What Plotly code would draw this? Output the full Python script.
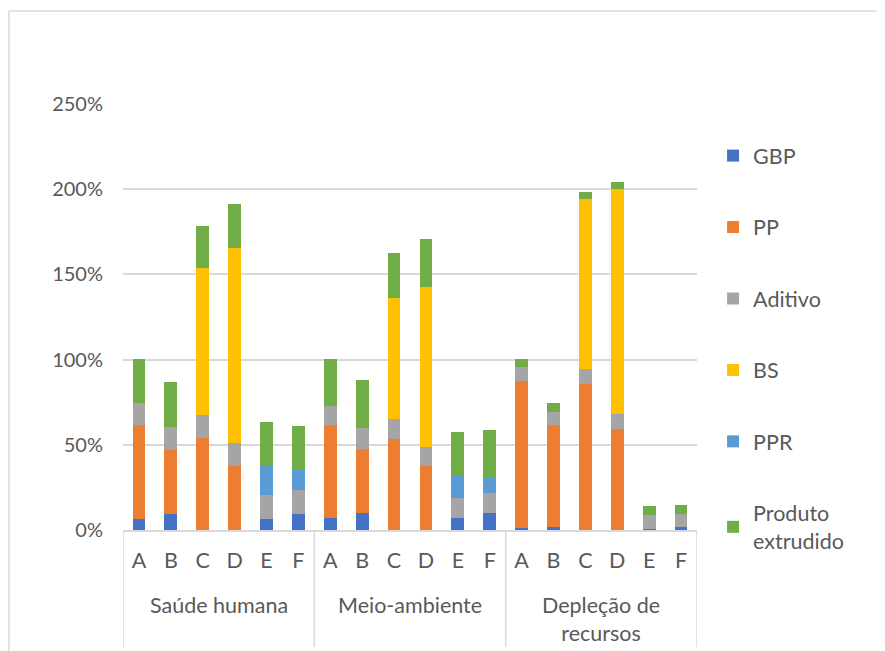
import plotly.graph_objects as go

groups = ["Saúde humana", "Meio-ambiente", "Depleção de<br>recursos"]
letters = ["A", "B", "C", "D", "E", "F"]

series_names = ["GBP", "PP", "Aditivo", "BS", "PPR", "Produto<br>extrudido"]
colors = ["#4472C4", "#ED7D31", "#A5A5A5", "#FFC000", "#5B9BD5", "#70AD47"]

# values in %, order: Saúde humana A-F, Meio-ambiente A-F, Depleção de recursos A-F
gbp = [6.5, 9.4, 0, 0, 6.5, 9.4,
       7.3, 10.2, 0, 0, 7.3, 10.2,
       1.0, 1.6, 0, 0, 0.8, 1.6]
pp = [55.0, 37.5, 54.1, 37.4, 0, 0,
      54.1, 37.2, 53.3, 37.4, 0, 0,
      86.2, 60.0, 85.8, 59.3, 0, 0]
aditivo = [13.0, 13.7, 13.2, 13.8, 13.8, 13.8,
           11.6, 12.6, 11.9, 11.6, 11.6, 11.7,
           8.7, 7.9, 8.7, 8.8, 7.9, 7.8]
bs = [0, 0, 86.4, 114.2, 0, 0,
      0, 0, 70.8, 93.7, 0, 0,
      0, 0, 99.6, 131.9, 0, 0]
ppr = [0, 0, 0, 0, 17.7, 12.6,
       0, 0, 0, 0, 12.6, 8.8,
       0, 0, 0, 0, 0, 0]
produto = [25.8, 26.4, 24.8, 25.7, 25.6, 25.4,
           27.2, 27.8, 26.4, 27.8, 26.2, 27.8,
           4.3, 5.1, 4.3, 4.3, 5.1, 5.4]

y_ticks = [0, 50, 100, 150, 200, 250]
y_ticktext = [f"{v}%" for v in y_ticks]

series_values = [gbp, pp, aditivo, bs, ppr, produto]

n_per_group = len(letters)
x_pos = list(range(len(groups) * n_per_group))
x_ticktext = [l for _ in groups for l in letters]

FONT = "Lato"
FS = 21.5
TXT = "#595959"
GRID = "#D9D9D9"

fig = go.Figure()
for i, (name, col, vals) in enumerate(zip(series_names, colors, series_values)):
    fig.add_trace(go.Bar(
        x=x_pos, y=vals, name=name,
        marker=dict(color=col, line=dict(width=0)),
        legendgroup=f"g{i}",
    ))

# group labels and dividers of the two-level category axis
shapes = []
annotations = []
for gi, g in enumerate(groups):
    annotations.append(dict(
        xref="x", yref="paper", x=gi * n_per_group + (n_per_group - 1) / 2,
        y=-0.141, yanchor="top", xanchor="center", showarrow=False,
        text=g, font=dict(family=FONT, size=FS, color=TXT),
    ))
for gi in range(len(groups) + 1):
    xd = gi * n_per_group - 0.5
    shapes.append(dict(type="line", xref="x", yref="paper",
                       x0=xd, x1=xd, y0=0, y1=-0.2746,
                       line=dict(color=GRID, width=1.5)))
# chart-area border
shapes.append(dict(type="rect", xref="paper", yref="paper",
                   x0=-0.1986, x1=1.5, y0=-0.5, y1=1.2183,
                   line=dict(color=GRID, width=1.5), fillcolor="rgba(0,0,0,0)",
                   layer="below"))

fig.update_layout(
    width=877, height=643,
    barmode="stack", bargap=0.6,
    plot_bgcolor="white", paper_bgcolor="white",
    margin=dict(l=115, r=188, t=96, b=121, pad=0),
    font=dict(family=FONT, size=FS, color=TXT),
    showlegend=True,
    legend=dict(
        x=1.028, xanchor="left", y=0.927, yanchor="top",
        traceorder="grouped", tracegroupgap=40.5, maxheight=600,
        font=dict(family=FONT, size=FS, color=TXT),
        bgcolor="rgba(0,0,0,0)", itemclick=False,
    ),
    xaxis=dict(
        tickvals=x_pos, ticktext=x_ticktext, range=[-0.5, len(x_pos) - 0.5],
        showline=True, linecolor=GRID, linewidth=1.5,
        ticks="", showgrid=False, zeroline=False,
        ticklabelstandoff=10,
        tickfont=dict(family=FONT, size=FS, color=TXT),
    ),
    yaxis=dict(
        range=[0, 250], tickvals=y_ticks, ticktext=y_ticktext,
        showgrid=True, gridcolor=GRID, gridwidth=1.5,
        zeroline=False, showline=False, ticks="",
        ticklabelstandoff=19,
        tickfont=dict(family=FONT, size=20, color=TXT),
    ),
    shapes=shapes,
    annotations=annotations,
)

fig.write_html("out.html", config={"displayModeBar": False})
